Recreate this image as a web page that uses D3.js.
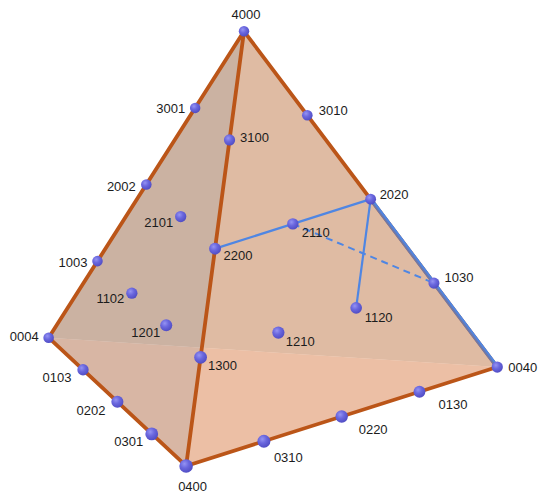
<!DOCTYPE html>
<html>
<head>
<meta charset="utf-8">
<script src="https://cdn.jsdelivr.net/npm/d3@7"></script>
<style>
  html, body { margin: 0; padding: 0; background: #ffffff; }
  svg { display: block; }
  .lbl { font-family: "Liberation Sans", Arial, Helvetica, sans-serif; font-size: 13px; fill: #1c1c1c; }
</style>
</head>
<body>
<svg id="chart" width="540" height="493"></svg>
<script>
// Compositions of 4 into four parts; digit i is the weight of corner i.
const compositions = [
  "4000", "3100", "3010", "3001",
  "2200", "2110", "2101", "2020", "2002",
  "1300", "1210", "1201", "1120", "1102", "1030", "1003",
  "0400", "0310", "0301", "0220", "0202", "0130", "0103", "0040", "0004"
];

// Corner order: 4000, 0400, 0040, 0004
const cornerNames = ["4000", "0400", "0040", "0004"];

// Tetrahedron edges drawn as tubes
const edges = [
  ["4000", "0004"], ["4000", "0040"], ["0004", "0400"], ["0400", "0040"], ["4000", "0400"]
];

// Faces: the two behind, then the two in front
const backFaces = [["4000", "0040", "0004"], ["0400", "0040", "0004"]];
const frontFaces = [["4000", "0400", "0004"], ["4000", "0400", "0040"]];

// Paths between compositions
const solidPaths = [["2200", "2110", "2020"], ["2020", "1120"]];
const edgePath = ["2020", "1030", "0040"];
const dashedPaths = [["2110", "1030"]];

// Label placement: [anchor, dx, dy]
const labelPlacement = {
  "4000": ["middle", 2, -17],
  "3001": ["end", -10, 1], "2002": ["end", -10.5, 1.5], "1003": ["end", -10, 1], "0004": ["end", -10, -1.5],
  "3100": ["start", 10.5, -2], "3010": ["start", 11.5, -5], "2020": ["start", 9, -5],
  "1030": ["start", 10.5, -6], "0040": ["start", 11, 0],
  "2110": ["start", 9, 8.5], "2200": ["start", 8.5, 6.5], "1120": ["start", 8.5, 9.5],
  "1210": ["start", 7.5, 9], "1300": ["start", 7.5, 8.5],
  "0130": ["start", 19, 12.5], "0220": ["start", 17, 13.5], "0310": ["start", 10, 16.5],
  "2101": ["end", -7.5, 5.5], "1102": ["end", -7.5, 5], "1201": ["end", -6, 7],
  "0103": ["end", -11.5, 8], "0202": ["end", -12, 8.5], "0301": ["end", -8.5, 7.5],
  "0400": ["middle", 6.5, 20.5]
};

// Regular tetrahedron with unit circumradius, apex on +z
const k = Math.sqrt(8) / 3;
const corners3d = [
  [0, 0, 1],
  [k * Math.cos(-Math.PI / 2), k * Math.sin(-Math.PI / 2), -1 / 3],
  [k * Math.cos(Math.PI / 6), k * Math.sin(Math.PI / 6), -1 / 3],
  [k * Math.cos(5 * Math.PI / 6), k * Math.sin(5 * Math.PI / 6), -1 / 3]
];

// Orthographic camera
const elev = 17 * Math.PI / 180, azim = -77.4 * Math.PI / 180;
const toward = [Math.cos(elev) * Math.cos(azim), Math.cos(elev) * Math.sin(azim), Math.sin(elev)];
const right = [-Math.sin(azim), Math.cos(azim), 0];
const up = [-Math.sin(elev) * Math.cos(azim), -Math.sin(elev) * Math.sin(azim), Math.cos(elev)];
const dot = (a, b) => a[0] * b[0] + a[1] * b[1] + a[2] * b[2];

const x = d3.scaleLinear().domain([-1, 1]).range([244 - 281.5, 244 + 281.5]);
const y = d3.scaleLinear().domain([-1, 1]).range([300.5 + 281.5, 300.5 - 281.5]);

function point3d(name) {
  const w = name.split("").map(Number).map(v => v / 4);
  const p = [0, 0, 0];
  w.forEach((wi, i) => { for (let j = 0; j < 3; j++) p[j] += wi * corners3d[i][j]; });
  return p;
}
function project(name) {
  const p = point3d(name);
  const u = dot(p, up), r = dot(p, right), d = dot(p, toward);
  return { name, px: x(r), py: y(u), depth: d, size: d - u };
}
const pts = new Map(compositions.map(c => [c, project(c)]));

const rScale = d3.scaleLinear().domain([-0.7, 1.4]).range([5.2, 6.8]);

const svg = d3.select("#chart");
const defs = svg.append("defs");
const grad = defs.append("radialGradient").attr("id", "ball")
  .attr("cx", "38%").attr("cy", "34%").attr("r", "70%");
grad.append("stop").attr("offset", "0%").attr("stop-color", "#9593f2");
grad.append("stop").attr("offset", "45%").attr("stop-color", "#6a67de");
grad.append("stop").attr("offset", "100%").attr("stop-color", "#4f4bc2");

const line = d3.line().x(d => pts.get(d).px).y(d => pts.get(d).py);
const poly = f => line(f) + "Z";

// Faces
svg.append("g").selectAll("path").data(backFaces).join("path")
  .attr("d", poly)
  .attr("fill", (d, i) => ["#d2b4a5", "#ecbca8"][i]);
svg.append("g").selectAll("path").data(frontFaces).join("path")
  .attr("d", poly)
  .attr("fill", (d, i) => ["#c4b09f", "#ecc2a2"][i])
  .attr("fill-opacity", 0.5);

// Hidden path inside the solid
svg.append("g").selectAll("path").data(dashedPaths).join("path")
  .attr("d", line).attr("fill", "none")
  .attr("stroke", "#4f86e3").attr("stroke-width", 2).attr("stroke-dasharray", "7,5");

// Edges
svg.append("g").selectAll("path").data(edges).join("path")
  .attr("d", line).attr("fill", "none")
  .attr("stroke", "#bb5518").attr("stroke-width", 3.8).attr("stroke-linecap", "round");

// Blue paths
svg.append("g").selectAll("path").data(solidPaths).join("path")
  .attr("d", line).attr("fill", "none")
  .attr("stroke", "#4f86e3").attr("stroke-width", 2.2).attr("stroke-linejoin", "round");

// Path running along the edge 4000-0040
const a = pts.get(edgePath[0]), b = pts.get(edgePath[edgePath.length - 1]);
const len = Math.hypot(b.px - a.px, b.py - a.py);
const nx = (b.py - a.py) / len, ny = -(b.px - a.px) / len;
svg.append("path").attr("d", line(edgePath)).attr("fill", "none")
  .attr("stroke", "#4f86e3").attr("stroke-opacity", 0.72).attr("stroke-width", 3.8);
svg.append("path").attr("d", line(edgePath)).attr("fill", "none")
  .attr("transform", `translate(${nx * 0.9},${ny * 0.9})`)
  .attr("stroke", "#4f86e3").attr("stroke-width", 1.8);

// Points, far to near
const ordered = compositions.map(c => pts.get(c)).sort((p, q) => p.depth - q.depth);
svg.append("g").selectAll("circle").data(ordered).join("circle")
  .attr("cx", d => d.px).attr("cy", d => d.py)
  .attr("r", d => rScale(d.size))
  .attr("fill", "url(#ball)");

// Labels
svg.append("g").selectAll("text").data(compositions).join("text")
  .attr("class", "lbl")
  .attr("x", d => pts.get(d).px + labelPlacement[d][1])
  .attr("y", d => pts.get(d).py + labelPlacement[d][2])
  .attr("text-anchor", d => labelPlacement[d][0])
  .attr("dominant-baseline", "central")
  .text(d => d);
</script>
</body>
</html>
